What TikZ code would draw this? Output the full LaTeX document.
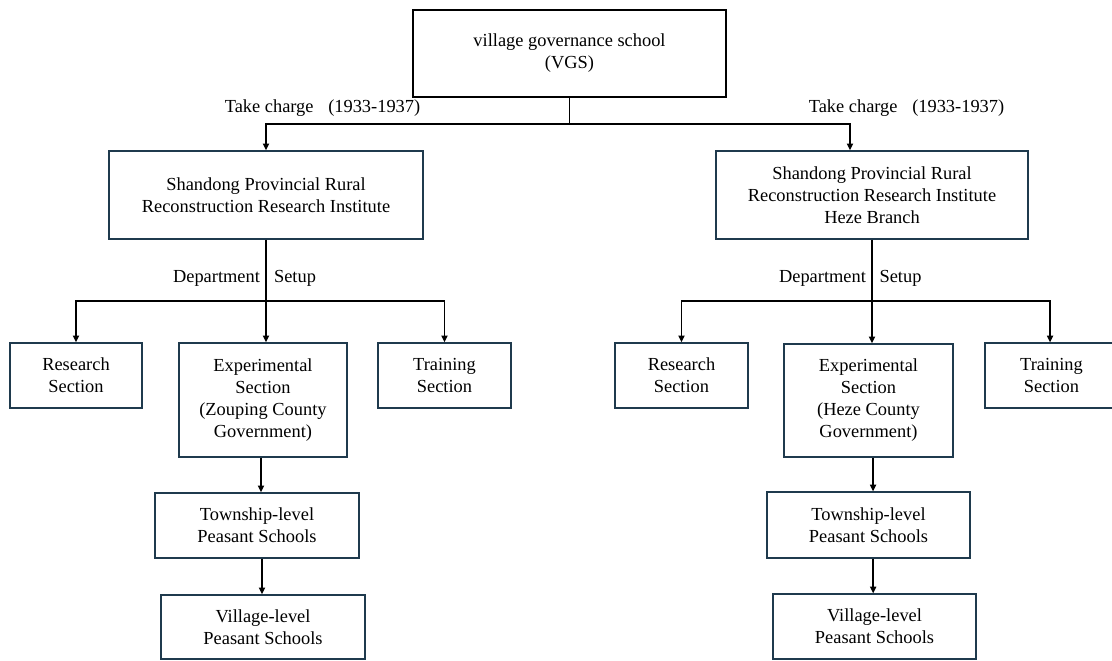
\documentclass[tikz,border=0pt]{standalone}
\usepackage{fontspec}
\setmainfont{Liberation Serif}
\usetikzlibrary{arrows.meta,calc}
\definecolor{boxc}{HTML}{1F3A4D}
\newcommand{\diagfont}{\fontsize{13.8}{16.5}\selectfont}
\begin{document}
\begin{tikzpicture}[x=0.75pt,y=-0.75pt,
  box/.style={draw=boxc,line width=1.1pt,inner sep=0pt,align=center,font=\diagfont,fill=white},
  bx/.style n args={2}{minimum width=#1*0.75pt,minimum height=#2*0.75pt},
  lbl/.style={inner sep=0pt,font=\diagfont},
  conn/.style={draw=black,line width=1.05pt},
  arr/.style={-{Triangle[length=5pt,width=4.6pt]}}]
\useasboundingbox (0,0) rectangle (1112,660);
\clip (0,0) rectangle (1112,660);
% top
\node[box,draw=black,bx={313}{87}] (vgs) at (569.5,53.5) {village governance school\\(VGS)};
\node[box,bx={314}{88}] (instL) at (266,195) {Shandong Provincial Rural\\Reconstruction Research Institute};
\node[box,bx={312}{88}] (instR) at (872,195) {Shandong Provincial Rural\\Reconstruction Research Institute\\Heze Branch};
% left branch
\node[box,bx={132}{65}] (resL) at (76,375.5) {Research\\Section};
\node[box,bx={168}{114}] (expL) at (263,400) {Experimental\\Section\\(Zouping County\\Government)};
\node[box,bx={133}{65}] (trnL) at (444.5,375.5) {Training\\Section};
\node[box,bx={204}{65}] (townL) at (257,525.5) {Township-level\\Peasant Schools};
\node[box,bx={204}{64}] (vilL) at (263,627) {Village-level\\Peasant Schools};
% right branch
\node[box,bx={133}{65}] (resR) at (681.5,375.5) {Research\\Section};
\node[box,bx={169}{113}] (expR) at (868.5,400.5) {Experimental\\Section\\(Heze County\\Government)};
\node[box,bx={133}{65}] (trnR) at (1051.5,375.5) {Training\\Section};
\node[box,bx={203}{66}] (townR) at (868.5,525) {Township-level\\Peasant Schools};
\node[box,bx={203}{65}] (vilR) at (874.5,626.5) {Village-level\\Peasant Schools};
% labels
\node[lbl] (takeL) at (322.5,108) {Take charge\hspace{11pt}(1933-1937)};
\node[lbl] (takeR) at (906.5,108.5) {Take charge\hspace{11pt}(1933-1937)};
\node[lbl] (depL) at (216.5,278) {Department};
\node[lbl] (setL) at (295,278) {Setup};
\node[lbl] (depR) at (822.5,278) {Department};
\node[lbl] (setR) at (900.5,278) {Setup};
% junction coordinates
\coordinate (jtop) at (569.5,124);
\coordinate (inR) at (850,151);
\coordinate (jdl) at (266,301);
\coordinate (jdr) at (872,301);
% connectors top
\draw[conn] (vgs.south) -- (jtop);
\draw[conn,arr] (jtop) -| (instL.north);
\draw[conn,arr] (jtop) -| (instR.north -| inR);
% left connectors
\draw[conn,arr] (instL.south) -- (instL.south |- expL.north);
\draw[conn,arr] (jdl) -| (resL.north);
\draw[conn,arr] (jdl) -| (trnL.north);
\draw[conn,arr] ([xshift=-1.5pt]expL.south) -- ([xshift=-1.5pt]expL.south |- townL.north);
\draw[conn,arr] ([xshift=-0.75pt]vilL.north |- townL.south) -- ([xshift=-0.75pt]vilL.north);
% right connectors
\draw[conn,arr] (instR.south) -- (instR.south |- expR.north);
\draw[conn,arr] (jdr) -| (resR.north);
\draw[conn,arr] (jdr) -| ([xshift=-1.1pt]trnR.north);
\draw[conn,arr] ([xshift=3.4pt]expR.south) -- ([xshift=3.4pt]expR.south |- townR.north);
\draw[conn,arr] ([xshift=-1pt]vilR.north |- townR.south) -- ([xshift=-1pt]vilR.north);
\end{tikzpicture}
\end{document}
